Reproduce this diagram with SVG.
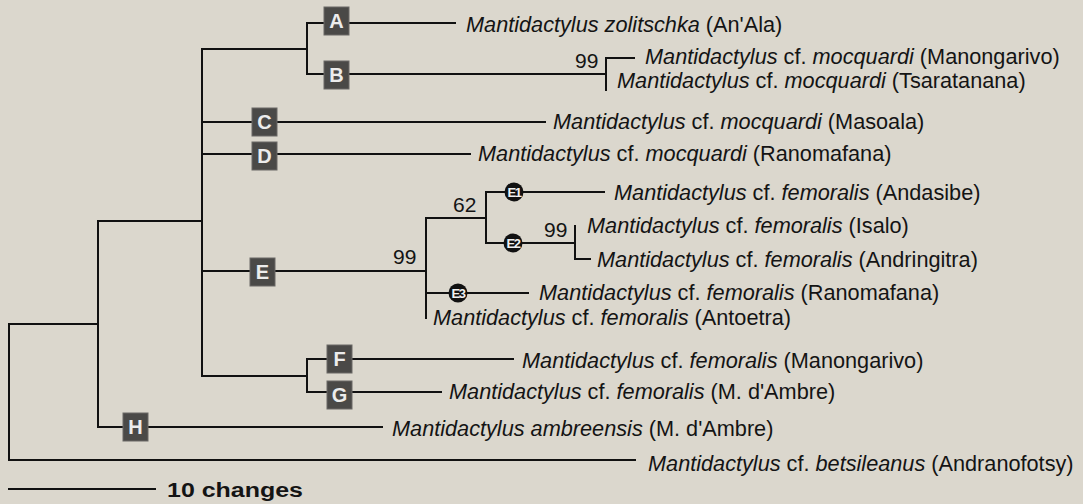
<svg xmlns="http://www.w3.org/2000/svg" width="1083" height="504" viewBox="0 0 1083 504">
<style>
.bg{fill:#dbd7cd}
.ln{stroke:#111;stroke-width:2;fill:none;stroke-linecap:square}
.tx{font-family:"Liberation Sans",Arial,sans-serif;font-size:21.7px;fill:#141414}
.i{font-style:italic}
.bs{font-family:"Liberation Sans",Arial,sans-serif;font-size:21px;fill:#141414}
.box{fill:#4a4947;stroke:#6a6966;stroke-width:1}
.bl{font-family:"Liberation Sans",Arial,sans-serif;font-size:20px;font-weight:bold;fill:#ececec;text-anchor:middle}
.cir{fill:#111}
.cl{font-family:"Liberation Sans",Arial,sans-serif;font-size:13px;font-weight:bold;fill:#f0f0f0;text-anchor:middle;letter-spacing:-1.5px}
.sc{font-family:"Liberation Sans",Arial,sans-serif;font-size:20px;font-weight:bold;fill:#141414}
</style>
<rect class="bg" x="0" y="0" width="1083" height="504"/>
<g id="connectors">
<path class="ln" d="M9,324V460M9,324H98M9,460H635"/>
<path class="ln" d="M98,221V427M98,221H202M98,427H382"/>
<path class="ln" d="M202,49V376M202,49H307M202,122H545M202,154H470M202,271H426M202,376H307"/>
<path class="ln" d="M307,23V74M307,23H455M307,74H606"/>
<path class="ln" d="M606,58V90M606,58H634"/>
<path class="ln" d="M426,218V318M426,218H486M426,293H528"/>
<path class="ln" d="M486,192V243M486,192H604M486,243H575"/>
<path class="ln" d="M575,226V259M575,259H590"/>
<path class="ln" d="M307,359V392M307,359H513M307,392H441"/>
<path class="ln" d="M9,489H155"/>
</g>
<g id="node-A"><rect class="box" x="324" y="7" width="25" height="28"/><text class="bl" x="336.5" y="28">A</text></g>
<g id="node-B"><rect class="box" x="324" y="61" width="25" height="28"/><text class="bl" x="336.5" y="82">B</text></g>
<g id="node-C"><rect class="box" x="252" y="108" width="25" height="28"/><text class="bl" x="264.5" y="129">C</text></g>
<g id="node-D"><rect class="box" x="252" y="142" width="25" height="28"/><text class="bl" x="264.5" y="163">D</text></g>
<g id="node-E"><rect class="box" x="250" y="258" width="25" height="28"/><text class="bl" x="262.5" y="279">E</text></g>
<g id="node-F"><rect class="box" x="327" y="345" width="25" height="28"/><text class="bl" x="339.5" y="366">F</text></g>
<g id="node-G"><rect class="box" x="327" y="381" width="25" height="28"/><text class="bl" x="339.5" y="402">G</text></g>
<g id="node-H"><rect class="box" x="123" y="413" width="25" height="28"/><text class="bl" x="135.5" y="434">H</text></g>
<g id="node-E1"><circle class="cir" cx="514" cy="192" r="9.5"/><text class="cl" x="514" y="196.5">E1</text></g>
<g id="node-E2"><circle class="cir" cx="513" cy="243" r="9.5"/><text class="cl" x="513" y="247.5">E2</text></g>
<g id="node-E3"><circle class="cir" cx="458" cy="293" r="9.5"/><text class="cl" x="458" y="297.5">E3</text></g>
<g id="support">
<text class="bs" x="575" y="68">99</text>
<text class="bs" x="453" y="212">62</text>
<text class="bs" x="544" y="237">99</text>
<text class="bs" x="393" y="264">99</text>
</g>
<g id="taxa">
<text class="tx" x="466" y="32"><tspan class="i">Mantidactylus zolitschka</tspan> (An'Ala)</text>
<text class="tx" x="645" y="64"><tspan class="i">Mantidactylus</tspan> cf. <tspan class="i">mocquardi</tspan> (Manongarivo)</text>
<text class="tx" x="617" y="88"><tspan class="i">Mantidactylus</tspan> cf. <tspan class="i">mocquardi</tspan> (Tsaratanana)</text>
<text class="tx" x="553" y="129"><tspan class="i">Mantidactylus</tspan> cf. <tspan class="i">mocquardi</tspan> (Masoala)</text>
<text class="tx" x="478" y="161"><tspan class="i">Mantidactylus</tspan> cf. <tspan class="i">mocquardi</tspan> (Ranomafana)</text>
<text class="tx" x="614" y="200"><tspan class="i">Mantidactylus</tspan> cf. <tspan class="i">femoralis</tspan> (Andasibe)</text>
<text class="tx" x="587" y="233"><tspan class="i">Mantidactylus</tspan> cf. <tspan class="i">femoralis</tspan> (Isalo)</text>
<text class="tx" x="597" y="267"><tspan class="i">Mantidactylus</tspan> cf. <tspan class="i">femoralis</tspan> (Andringitra)</text>
<text class="tx" x="539" y="300"><tspan class="i">Mantidactylus</tspan> cf. <tspan class="i">femoralis</tspan> (Ranomafana)</text>
<text class="tx" x="433" y="325"><tspan class="i">Mantidactylus</tspan> cf. <tspan class="i">femoralis</tspan> (Antoetra)</text>
<text class="tx" x="522" y="368"><tspan class="i">Mantidactylus</tspan> cf. <tspan class="i">femoralis</tspan> (Manongarivo)</text>
<text class="tx" x="449" y="399"><tspan class="i">Mantidactylus</tspan> cf. <tspan class="i">femoralis</tspan> (M. d'Ambre)</text>
<text class="tx" x="392" y="436"><tspan class="i">Mantidactylus ambreensis</tspan> (M. d'Ambre)</text>
<text class="tx" x="648" y="471"><tspan class="i">Mantidactylus</tspan> cf. <tspan class="i">betsileanus</tspan> (Andranofotsy)</text>
</g>
<g id="scale"><text class="sc" x="167" y="497" textLength="136" lengthAdjust="spacingAndGlyphs">10 changes</text></g>
</svg>
